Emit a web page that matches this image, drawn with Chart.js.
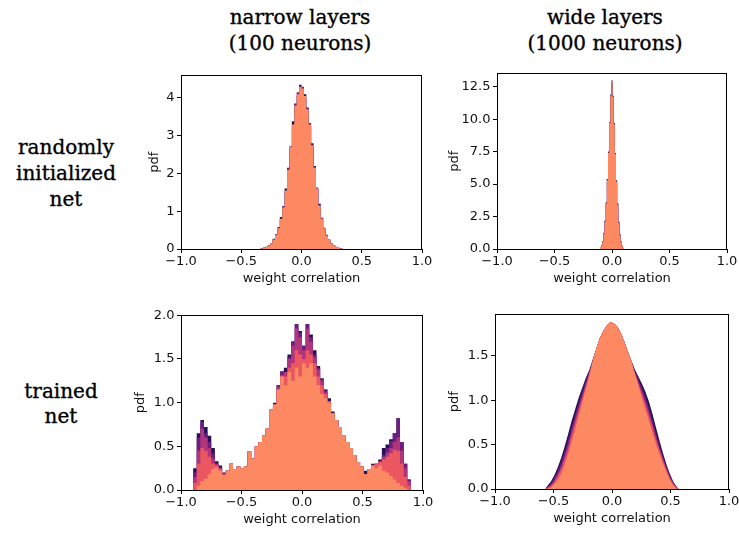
<!DOCTYPE html>
<html>
<head>
<meta charset="utf-8">
<script src="https://cdn.jsdelivr.net/npm/chart.js@4.4.0/dist/chart.umd.min.js"></script>
<style>
  body { margin: 0; background: #fff; }
  #fig { position: relative; width: 739px; height: 534px; overflow: hidden; background: #fff; }
  #fig canvas { position: absolute; }
  .lbl { position: absolute; font-family: "DejaVu Serif", serif; font-size: 20px; color: #000;
         text-align: center; white-space: nowrap; -webkit-text-stroke: 0.35px #000; }
</style>
</head>
<body>
<div id="fig">
  <div class="lbl" style="left:200px; top:4px; width:200px; line-height:26px;">narrow layers<br>(100 neurons)</div>
  <div class="lbl" style="left:505px; top:4px; width:200px; line-height:26px;">wide layers<br>(1000 neurons)</div>
  <div class="lbl" style="left:6px; top:134px; width:120px; line-height:26px;">randomly<br>initialized<br>net</div>
  <div class="lbl" style="left:1px; top:379px; width:120px; line-height:25px;">trained<br>net</div>
  <canvas id="randNarrow"></canvas>
  <canvas id="randWide"></canvas>
  <canvas id="trainedNarrow"></canvas>
  <canvas id="trainedWide"></canvas>
</div>
<script>
// shared axis values
const xTicks = [-1, -0.5, 0, 0.5, 1];
const layerColors = ['#251255', '#6e1e81', '#b1357b', '#ea5760', '#fc8961'];

// randomly initialized, narrow layers (bins of 0.02 starting at -0.34)
const randNarrowStart = -0.34, randNarrowWidth = 0.02;
const randNarrowDark = [0.02, 0.04, 0.05, 0.1, 0.14, 0.27, 0.4, 0.53, 0.85, 1.12, 1.6, 2.15, 2.68, 3.38, 3.85, 4.05, 4.35,
  4.2, 4.1, 3.75, 3.25, 2.8, 2.2, 1.58, 1.2, 0.83, 0.53, 0.38, 0.25, 0.14, 0.1, 0.04, 0.03, 0.02];
const randNarrowPurple = [0.01, 0.02, 0.06, 0.09, 0.16, 0.24, 0.4, 0.58, 0.78, 1.14, 1.52, 2.14, 2.72, 3.28, 3.84, 4.15, 4.28,
  4.3, 4.0, 3.72, 3.34, 2.72, 2.18, 1.63, 1.12, 0.82, 0.56, 0.35, 0.22, 0.16, 0.08, 0.06, 0.02, 0.01];
const randNarrowSalmon = [0.01, 0.03, 0.05, 0.09, 0.15, 0.25, 0.38, 0.55, 0.8, 1.1, 1.55, 2.1, 2.7, 3.3, 3.8, 4.1, 4.3,
  4.25, 4.05, 3.7, 3.3, 2.75, 2.15, 1.6, 1.15, 0.8, 0.55, 0.36, 0.24, 0.15, 0.09, 0.05, 0.03, 0.01];
const randNarrowYTicks = [0, 1, 2, 3, 4];

// randomly initialized, wide layers (bins of 0.01 starting at -0.105)
const randWideStart = -0.105, randWideWidth = 0.01;
const randWideDark = [0.1, 0.28, 0.62, 1.25, 2.15, 3.6, 5.4, 7.5, 9.6, 11.9, 12.8, 11.8, 9.7, 7.2, 5.3, 3.5, 2.1, 1.15, 0.6, 0.25, 0.08];
const randWidePurple = [0.09, 0.26, 0.58, 1.22, 2.2, 3.45, 5.35, 7.45, 9.8, 11.7, 13.0, 11.6, 9.65, 7.4, 5.15, 3.45, 2.05, 1.12, 0.58, 0.24, 0.09];
const randWideSalmon = [0.08, 0.25, 0.6, 1.2, 2.1, 3.5, 5.3, 7.4, 9.7, 11.8, 12.9, 11.7, 9.6, 7.3, 5.2, 3.4, 2.0, 1.1, 0.55, 0.22, 0.07];
const randWideYTicks = [0, 2.5, 5, 7.5, 10, 12.5];

// trained, narrow layers (bins of 0.03 starting at -0.9), one series per layer
const trainedNarrowStart = -0.9, trainedNarrowWidth = 0.03;
const trainedNarrow1 = [0.25, 0.65, 0.8, 0.72, 0.62, 0.48, 0.33, 0.28, 0.2, 0.22,
  0.3, 0.24, 0.27, 0.25, 0.27, 0.44, 0.36, 0.5, 0.55, 0.62,
  0.7, 0.92, 1.0, 1.2, 1.36, 1.4, 1.55, 1.7, 1.9, 1.82,
  1.65, 1.9, 1.78, 1.6, 1.42, 1.28, 1.15, 1.05, 0.9, 0.8,
  0.72, 0.62, 0.55, 0.48, 0.4, 0.32, 0.27, 0.22, 0.24, 0.3,
  0.3, 0.35, 0.48, 0.52, 0.58, 0.65, 0.82, 0.55, 0.3, 0.12];
const trainedNarrow2 = [0.2, 0.6, 0.78, 0.65, 0.55, 0.42, 0.3, 0.26, 0.19, 0.22,
  0.3, 0.24, 0.27, 0.25, 0.27, 0.44, 0.36, 0.5, 0.55, 0.62,
  0.7, 0.92, 0.98, 1.2, 1.35, 1.35, 1.52, 1.7, 1.9, 1.8,
  1.65, 1.9, 1.75, 1.55, 1.4, 1.27, 1.15, 1.02, 0.88, 0.8,
  0.72, 0.62, 0.55, 0.48, 0.4, 0.32, 0.27, 0.18, 0.24, 0.29,
  0.3, 0.33, 0.4, 0.48, 0.56, 0.65, 0.82, 0.55, 0.3, 0.12];
const trainedNarrow3 = [0.15, 0.45, 0.7, 0.6, 0.48, 0.36, 0.3, 0.25, 0.19, 0.22,
  0.3, 0.24, 0.27, 0.25, 0.27, 0.44, 0.36, 0.5, 0.55, 0.62,
  0.7, 0.92, 0.98, 1.18, 1.32, 1.35, 1.5, 1.65, 1.85, 1.75,
  1.6, 1.85, 1.7, 1.52, 1.38, 1.25, 1.12, 1.02, 0.88, 0.8,
  0.72, 0.62, 0.55, 0.48, 0.4, 0.32, 0.27, 0.18, 0.24, 0.28,
  0.3, 0.33, 0.38, 0.43, 0.48, 0.55, 0.6, 0.45, 0.25, 0.1];
const trainedNarrow4 = [0.08, 0.3, 0.48, 0.45, 0.38, 0.3, 0.28, 0.24, 0.18, 0.22,
  0.3, 0.24, 0.27, 0.25, 0.27, 0.44, 0.36, 0.5, 0.55, 0.62,
  0.7, 0.92, 0.98, 1.15, 1.3, 1.3, 1.4, 1.45, 1.6, 1.55,
  1.5, 1.6, 1.55, 1.45, 1.3, 1.2, 1.1, 1.02, 0.88, 0.8,
  0.72, 0.62, 0.55, 0.48, 0.4, 0.32, 0.27, 0.18, 0.24, 0.28,
  0.3, 0.32, 0.35, 0.38, 0.42, 0.46, 0.45, 0.3, 0.15, 0.05];
const trainedNarrow5 = [0, 0.05, 0.1, 0.13, 0.18, 0.24, 0.26, 0.22, 0.17, 0.22,
  0.3, 0.24, 0.27, 0.25, 0.27, 0.44, 0.36, 0.5, 0.55, 0.62,
  0.7, 0.92, 0.98, 1.15, 1.3, 1.2, 1.35, 1.25, 1.4, 1.3,
  1.45, 1.4, 1.45, 1.3, 1.2, 1.1, 1.05, 1.0, 0.88, 0.8,
  0.72, 0.62, 0.55, 0.48, 0.4, 0.32, 0.27, 0.18, 0.24, 0.28,
  0.25, 0.28, 0.22, 0.2, 0.16, 0.12, 0.08, 0.05, 0.02, 0];
const trainedNarrowYTicks = [0, 0.5, 1, 1.5, 2];

// trained, wide layers (bins of 0.03 starting at -0.57); fine bins, drawn as an outline through bin centres
const trainedWideStart = -0.57, trainedWideWidth = 0.03;
const trainedWide1 = [0.03, 0.08, 0.15, 0.24, 0.35, 0.48, 0.62, 0.77, 0.9, 1.03, 1.14, 1.25, 1.34, 1.46, 1.58, 1.7, 1.78, 1.84, 1.88,
  1.87, 1.83, 1.76, 1.66, 1.55, 1.45, 1.35, 1.27, 1.19, 1.1, 0.99, 0.85, 0.7, 0.55, 0.41, 0.28, 0.17, 0.08, 0.02];
const trainedWide2 = [0.02, 0.06, 0.12, 0.2, 0.3, 0.42, 0.55, 0.7, 0.84, 0.97, 1.09, 1.21, 1.32, 1.45, 1.58, 1.7, 1.78, 1.84, 1.88,
  1.87, 1.83, 1.76, 1.66, 1.55, 1.44, 1.33, 1.24, 1.14, 1.04, 0.92, 0.78, 0.64, 0.5, 0.37, 0.25, 0.15, 0.07, 0.02];
const trainedWide3 = [0.01, 0.04, 0.09, 0.16, 0.25, 0.37, 0.49, 0.64, 0.78, 0.92, 1.05, 1.18, 1.31, 1.45, 1.58, 1.7, 1.78, 1.84, 1.88,
  1.87, 1.83, 1.76, 1.66, 1.55, 1.44, 1.32, 1.21, 1.1, 0.99, 0.87, 0.73, 0.59, 0.46, 0.34, 0.23, 0.13, 0.06, 0.01];
const trainedWide4 = [0.01, 0.03, 0.07, 0.14, 0.22, 0.33, 0.45, 0.6, 0.74, 0.88, 1.02, 1.15, 1.29, 1.44, 1.58, 1.7, 1.78, 1.84, 1.88,
  1.87, 1.83, 1.76, 1.66, 1.55, 1.44, 1.31, 1.19, 1.07, 0.95, 0.83, 0.7, 0.56, 0.44, 0.32, 0.22, 0.12, 0.05, 0.01];
const trainedWide5 = [0, 0.01, 0.05, 0.1, 0.17, 0.27, 0.39, 0.53, 0.67, 0.82, 0.97, 1.12, 1.27, 1.44, 1.58, 1.7, 1.78, 1.84, 1.88,
  1.87, 1.83, 1.76, 1.66, 1.55, 1.44, 1.3, 1.17, 1.03, 0.9, 0.77, 0.64, 0.51, 0.4, 0.29, 0.19, 0.1, 0.04, 0];
const trainedWideYTicks = [0, 0.5, 1, 1.5];

const tickFont = { family: 'DejaVu Sans', size: 13 };
const inkColor = '#111';

// turn bin heights into a step outline: left edges plus a closing point
function histPoints(start, width, values) {
  const pts = [{ x: start, y: 0 }];
  values.forEach((v, i) => pts.push({ x: start + i * width, y: v }));
  pts.push({ x: start + values.length * width, y: 0 });
  return pts;
}

// same bins, but the outline goes through the bin centres
function centrePoints(start, width, values) {
  const pts = [{ x: start, y: 0 }];
  values.forEach((v, i) => pts.push({ x: start + (i + 0.5) * width, y: v }));
  pts.push({ x: start + values.length * width, y: 0 });
  return pts;
}

function fmt(v, digits) {
  const s = Math.abs(v).toFixed(digits);
  return v < 0 ? '\u2212' + s : s;
}

// black box around the plot area, like matplotlib spines
const frame = {
  id: 'frame',
  afterDatasetsDraw(chart) {
    const { ctx, chartArea: a } = chart;
    ctx.save();
    ctx.strokeStyle = '#000';
    ctx.lineWidth = 1;
    ctx.strokeRect(Math.round(a.left) + 0.5, Math.round(a.top) + 0.5,
      Math.round(a.right - a.left) - 1, Math.round(a.bottom - a.top));
    ctx.restore();
  }
};

const yAxisW = 50, xAxisH = 42, padTop = 10, padRight = 16;

function makeChart(id, area, series, yMax, yTicks, yDigits, pdfPad, smooth) {
  const canvas = document.getElementById(id);
  const left = area.left - yAxisW, top = area.top - padTop;
  canvas.width = area.right - left + padRight;
  canvas.height = area.bottom - top + xAxisH;
  canvas.style.left = left + 'px';
  canvas.style.top = top + 'px';

  const n = series.length;
  const datasets = series.map((s, k) => ({
    data: smooth ? centrePoints(s.start, s.width, s.values) : histPoints(s.start, s.width, s.values),
    backgroundColor: s.color,
    borderColor: 'transparent',
    borderWidth: 0,
    pointRadius: 0,
    stepped: smooth ? false : 'before', // each bin value holds until the next edge
    fill: 'origin',
    order: n - k
  }));

  new Chart(canvas, {
    type: 'line',
    data: { datasets },
    options: {
      responsive: false,
      animation: false,
      layout: { padding: { top: padTop, right: padRight, left: 0, bottom: 0 } },
      plugins: { legend: { display: false }, tooltip: { enabled: false } },
      scales: {
        x: {
          type: 'linear', min: -1, max: 1,
          afterBuildTicks: s => { s.ticks = xTicks.map(v => ({ value: v })); },
          afterFit: s => { s.height = xAxisH; },
          ticks: { callback: v => fmt(v, 1), font: tickFont, color: inkColor, padding: 1, maxRotation: 0, autoSkip: false },
          grid: { display: true, drawOnChartArea: false, drawTicks: true, tickLength: 4, tickColor: '#000', tickWidth: 1 },
          border: { display: false },
          title: { display: true, text: 'weight correlation', font: tickFont, color: inkColor, padding: { top: 0, bottom: 5 } }
        },
        y: {
          type: 'linear', min: 0, max: yMax,
          afterBuildTicks: s => { s.ticks = yTicks.map(v => ({ value: v })); },
          afterFit: s => { s.width = yAxisW; },
          ticks: { callback: v => fmt(v, yDigits), font: tickFont, color: inkColor, padding: 2.5, autoSkip: false },
          grid: { display: true, drawOnChartArea: false, drawTicks: true, tickLength: 4, tickColor: '#000', tickWidth: 1 },
          border: { display: false },
          title: { display: true, text: 'pdf', font: tickFont, color: inkColor, padding: { top: pdfPad, bottom: 0 } }
        }
      }
    },
    plugins: [frame]
  });
}

makeChart('randNarrow', { left: 181, top: 75, right: 422, bottom: 249 }, [
  { start: randNarrowStart, width: randNarrowWidth, values: randNarrowDark, color: layerColors[0] },
  { start: randNarrowStart, width: randNarrowWidth, values: randNarrowPurple, color: layerColors[1] },
  { start: randNarrowStart, width: randNarrowWidth, values: randNarrowSalmon, color: layerColors[4] }
], 4.6, randNarrowYTicks, 0, 16, false);

makeChart('randWide', { left: 497, top: 73, right: 727, bottom: 249 }, [
  { start: randWideStart, width: randWideWidth, values: randWideDark, color: layerColors[0] },
  { start: randWideStart, width: randWideWidth, values: randWidePurple, color: layerColors[1] },
  { start: randWideStart, width: randWideWidth, values: randWideSalmon, color: layerColors[4] }
], 13.53, randWideYTicks, 1, 0, false);

makeChart('trainedNarrow', { left: 181, top: 315, right: 423, bottom: 490 },
  [trainedNarrow1, trainedNarrow2, trainedNarrow3, trainedNarrow4, trainedNarrow5].map((v, k) => (
    { start: trainedNarrowStart, width: trainedNarrowWidth, values: v, color: layerColors[k] })),
  2.0, trainedNarrowYTicks, 1, 2, false);

makeChart('trainedWide', { left: 495, top: 314, right: 729, bottom: 489 },
  [trainedWide1, trainedWide2, trainedWide3, trainedWide4, trainedWide5].map((v, k) => (
    { start: trainedWideStart, width: trainedWideWidth, values: v, color: layerColors[k] })),
  1.97, trainedWideYTicks, 1, 2, true);
</script>
</body>
</html>
